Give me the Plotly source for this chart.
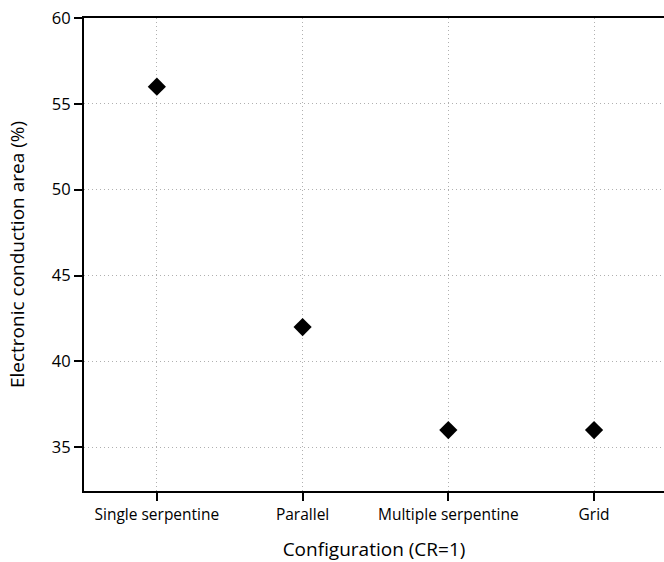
import plotly.graph_objects as go

categories = ["Single serpentine", "Parallel", "Multiple serpentine", "Grid"]
values = [56, 42, 36, 36]
y_ticks = [35, 40, 45, 50, 55, 60]

FONT = "Open Sans"

fig = go.Figure()
fig.add_trace(go.Scatter(
    x=list(range(len(categories))), y=values, mode="markers",
    marker=dict(symbol="diamond", size=14, color="black"),
    showlegend=False,
))

fig.update_layout(
    width=664, height=562,
    margin=dict(l=84, r=0, t=18, b=71),
    paper_bgcolor="white", plot_bgcolor="white",
    font=dict(family=FONT, size=15.5, color="black"),
)
fig.update_xaxes(
    range=[-0.5, 3.48],
    tickmode="array", tickvals=list(range(len(categories))), ticktext=categories,
    showline=True, linecolor="black", linewidth=2, mirror=True,
    ticks="outside", ticklen=8, tickwidth=2, tickcolor="black",
    showgrid=True, gridcolor="#b0b0b0", griddash="1px,3px", gridwidth=1,
    zeroline=False,
    title=dict(text="Configuration (CR=1)", font=dict(size=19), standoff=24),
)
fig.update_yaxes(
    range=[32.45, 60],
    tickmode="array", tickvals=y_ticks, tickfont=dict(size=16.5),
    showline=True, linecolor="black", linewidth=2, mirror=False,
    ticks="outside", ticklen=8, tickwidth=2, tickcolor="black",
    showgrid=True, gridcolor="#b0b0b0", griddash="1px,3px", gridwidth=1,
    zeroline=False,
    title=dict(text="Electronic conduction area (%)", font=dict(size=19), standoff=22),
)

fig.write_html("out.html")
